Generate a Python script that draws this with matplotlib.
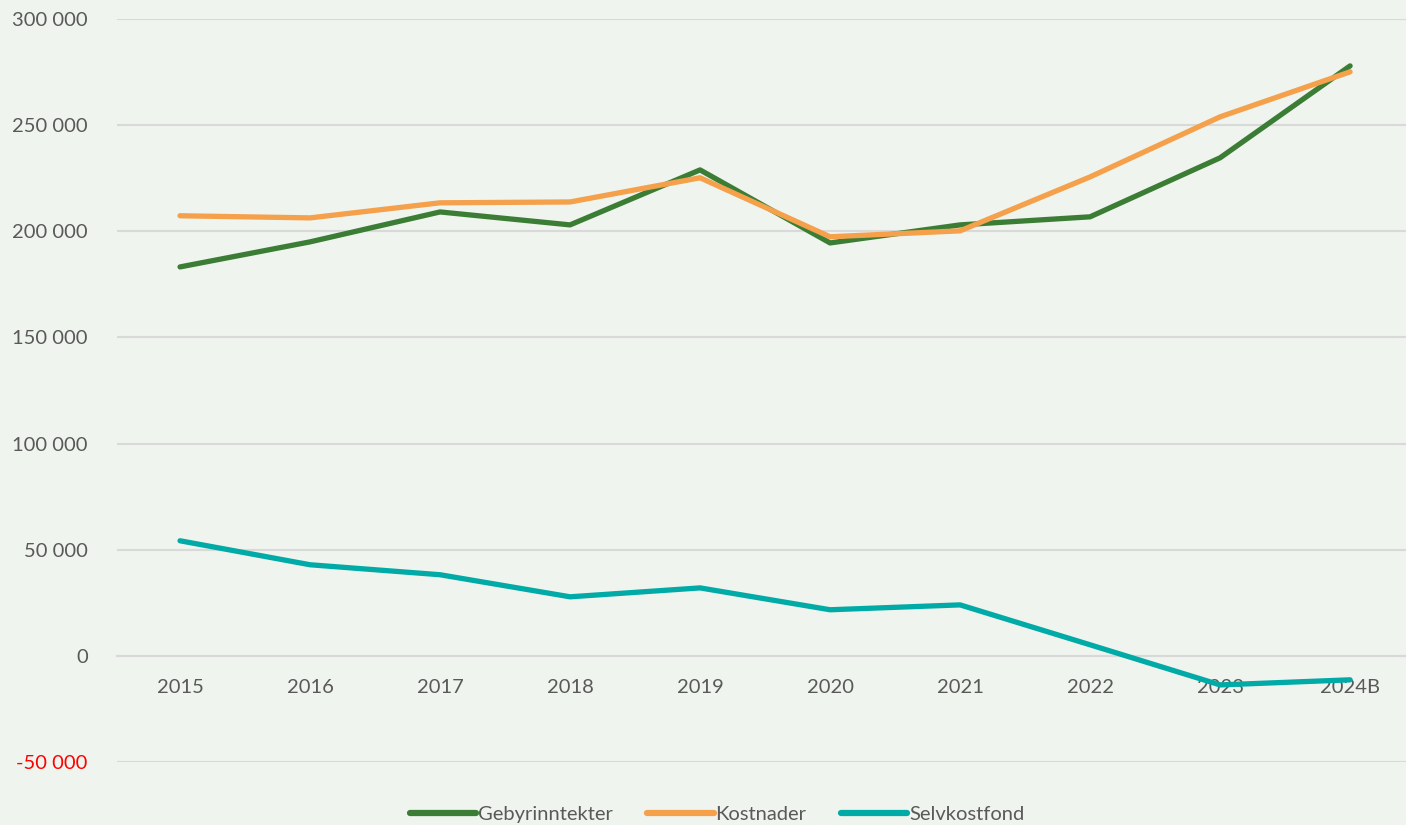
import matplotlib
matplotlib.use('Agg')
import matplotlib.pyplot as plt
from matplotlib.ticker import FuncFormatter

# Data
years = ['2015', '2016', '2017', '2018', '2019', '2020', '2021', '2022', '2023', '2024B']
gebyrinntekter = [183200, 195000, 209100, 203000, 228900, 194500, 203000, 206800, 234600, 277900]
kostnader = [207300, 206300, 213400, 213800, 225200, 197400, 200200, 225600, 253900, 275100]
selvkostfond = [54200, 42900, 38200, 27800, 32000, 21700, 24000, 5200, -13700, -11300]

y_ticks = [-50000, 0, 50000, 100000, 150000, 200000, 250000, 300000]

plt.rcParams['font.family'] = ['Lato', 'DejaVu Sans']

bg = '#EFF4EE'
fig = plt.figure(figsize=(14.06, 8.25), dpi=100, facecolor=bg)
ax = fig.add_axes([0.0832, 0.0764, 0.9168, 0.9006])
ax.set_facecolor(bg)

x = range(len(years))
ax.plot(x, gebyrinntekter, color='#3B7D35', lw=3.8, label='Gebyrinntekter', solid_capstyle='round', zorder=3)
ax.plot(x, kostnader, color='#F5A04B', lw=3.8, label='Kostnader', solid_capstyle='round', zorder=3)
ax.plot(x, selvkostfond, color='#00AAA6', lw=3.8, label='Selvkostfond', solid_capstyle='round', zorder=3)

ax.set_ylim(-50000, 300000)
ax.set_xlim(-0.485, 9.43)
ax.set_yticks(y_ticks)
ax.yaxis.set_major_formatter(FuncFormatter(lambda v, p: f'{int(v):,}'.replace(',', ' ')))
ax.grid(axis='y', color='#D9D9D9', lw=1.5, zorder=0)
ax.set_axisbelow(True)

for s in ['top', 'right', 'left']:
    ax.spines[s].set_visible(False)
ax.spines['bottom'].set_position(('data', 0))
ax.spines['bottom'].set_color('#D9D9D9')
ax.spines['bottom'].set_linewidth(1.5)

ax.set_xticks(list(x))
ax.set_xticklabels(years)
ax.tick_params(axis='x', length=0, pad=17, labelsize=14.5, labelcolor='#595959')
ax.tick_params(axis='y', length=0, pad=21, labelsize=14.5, labelcolor='#595959')
for lbl, v in zip(ax.get_yticklabels(), y_ticks):
    if v < 0:
        lbl.set_color('red')

leg = ax.legend(loc='center', bbox_to_anchor=(0.51, 0.013), bbox_transform=fig.transFigure,
                ncol=3, frameon=False, fontsize=14.5, handlelength=3.3, handletextpad=0.1,
                columnspacing=1.7)
for t in leg.get_texts():
    t.set_color('#595959')
for h in leg.get_lines():
    h.set_linewidth(4.5)

fig.savefig('out.png', dpi=100, facecolor=bg)
